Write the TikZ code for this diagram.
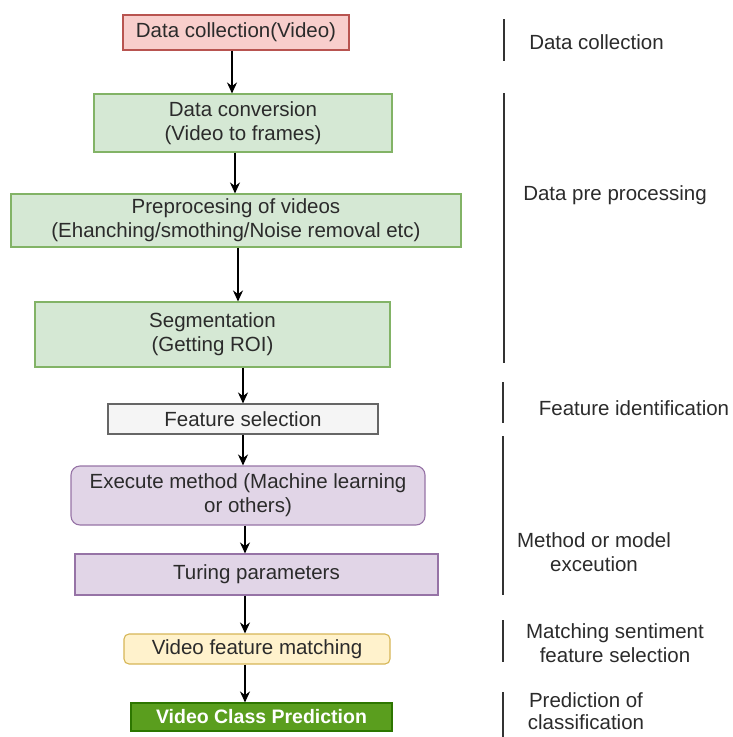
\documentclass[tikz,border=0pt]{standalone}
\usepackage{fontspec}
\setmainfont{Liberation Sans}
\usepackage{tikz}
\usetikzlibrary{arrows.meta,positioning,calc}

\definecolor{pinkfill}{HTML}{F8CECC}
\definecolor{pinkline}{HTML}{B85450}
\definecolor{greenfill}{HTML}{D5E8D4}
\definecolor{greenline}{HTML}{82B366}
\definecolor{grayfill}{HTML}{F5F5F5}
\definecolor{grayline}{HTML}{666666}
\definecolor{purplefill}{HTML}{E1D5E7}
\definecolor{purpleline}{HTML}{9673A6}
\definecolor{yellowfill}{HTML}{FFF2CC}
\definecolor{yellowline}{HTML}{D6B656}
\definecolor{darkgreenfill}{HTML}{5A9E1E}
\definecolor{darkgreenline}{HTML}{2D7600}
\definecolor{txtgray}{HTML}{2B2B2B}

\tikzset{
  box/.style={draw, line width=1.1pt, inner sep=0pt, align=center, text=txtgray,
    font=\fontsize{20.5}{24}\selectfont},
  stage/.style={align=center, text=txtgray, font=\fontsize{20.5}{24}\selectfont},
  flow/.style={line width=1.4pt, -{Stealth[length=11pt,width=10pt]}},
  sep/.style={line width=1.4pt, black!80}
}

\begin{document}
\begin{tikzpicture}[x=1pt,y=-1pt]
  \useasboundingbox (0,0) rectangle (733,737);

  % flow chart
  \node (coll) [box, fill=pinkfill, draw=pinkline, minimum width=226pt, minimum height=35pt] at (236,32.5) {Data collection(Video)};
  \node (conv) [box, fill=greenfill, draw=greenline, minimum width=298pt, minimum height=58pt] at (243,123) {Data conversion\\ (Video to frames)};
  \node (prep) [box, fill=greenfill, draw=greenline, minimum width=450pt, minimum height=53pt] at (236,220.5) {Preprocesing of videos\\(Ehanching/smothing/Noise removal etc)};
  \node (segm) [box, fill=greenfill, draw=greenline, minimum width=355pt, minimum height=65pt] at (212.5,334.5) {Segmentation\\(Getting ROI)};
  \node (feat) [box, fill=grayfill, draw=grayline, minimum width=270pt, minimum height=30pt] at (243,419) {Feature selection};
  \node (exec) [box, fill=purplefill, draw=purpleline, rounded corners=9pt, minimum width=354pt, minimum height=59pt] at (248,495.5) {Execute method (Machine learning\\or others)};
  \node (tune) [box, fill=purplefill, draw=purpleline, minimum width=363pt, minimum height=41pt] at (256.5,574.5) {Turing parameters};
  \node (match) [box, fill=yellowfill, draw=yellowline, rounded corners=5pt, minimum width=266pt, minimum height=30pt] at (257,649) {Video feature matching};
  \node (pred) [box, fill=darkgreenfill, draw=darkgreenline, text=white, font=\fontsize{19.5}{24}\selectfont\bfseries, minimum width=261pt, minimum height=28pt] at (261.5,717) {Video Class Prediction};

  \foreach \a/\b/\x in {coll/conv/232, conv/prep/235, prep/segm/238, segm/feat/243,
                        feat/exec/243, exec/tune/245, tune/match/245, match/pred/245}
    \draw [flow] (\a.south -| \x,0) -- (\b.north -| \x,0);

  % stages
  \node (s1) [stage] at (596.5,42) {Data collection};
  \node (s2) [stage] at (615,195) {Data pre processing};
  \node (s3) [stage] at (634,408) {Feature identification};
  \node (s4) [stage] at (594,552) {Method or model\\exceution};
  \node (s5) [stage] at (615,643) {Matching sentiment\\feature selection};
  \node (s6) [stage, font=\fontsize{20.5}{22.5}\selectfont] at (586,711) {Prediction of\\classification};

  \draw [sep] (504,19) -- (504,61);
  \draw [sep] (504,93) -- (504,363);
  \draw [sep] (503,382) -- (503,423);
  \draw [sep] (503,436) -- (503,595);
  \draw [sep] (503,620) -- (503,662);
  \draw [sep] (503,692) -- (503,740);
\end{tikzpicture}
\end{document}
